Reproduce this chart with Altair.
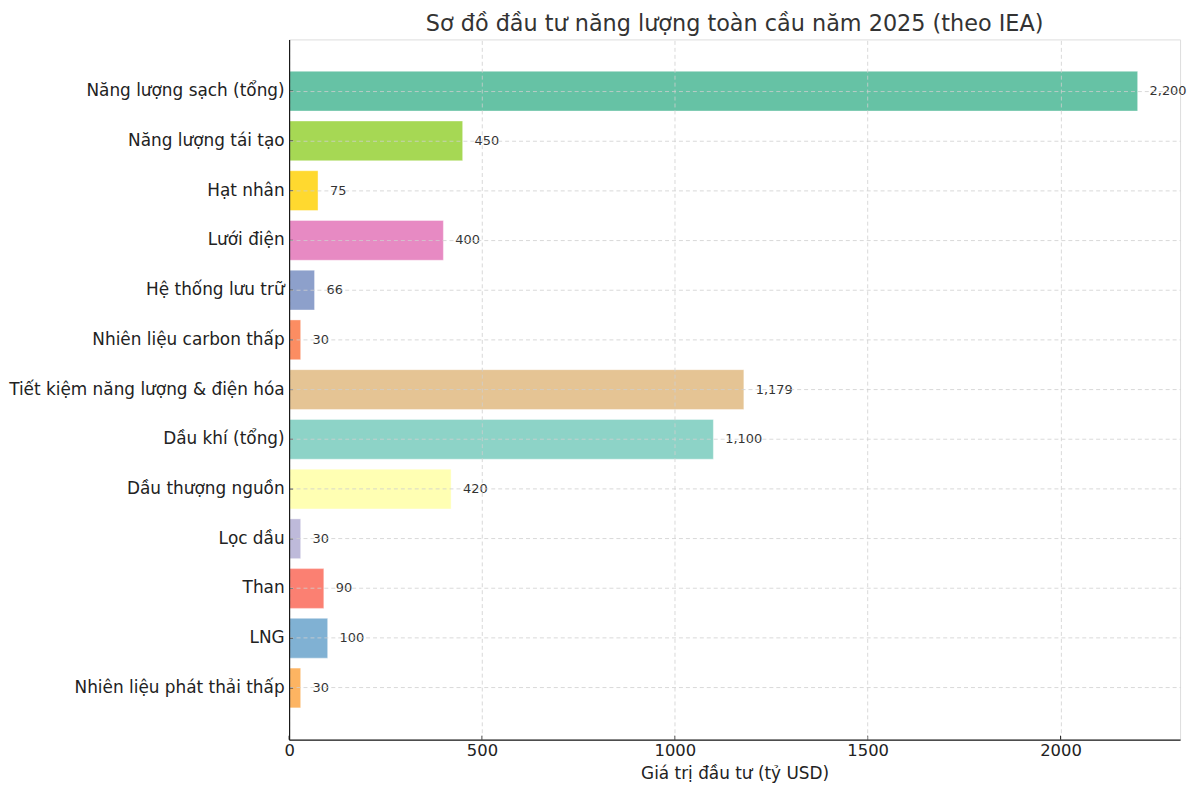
import altair as alt
import pandas as pd

categories = [
    "Năng lượng sạch (tổng)",
    "Năng lượng tái tạo",
    "Hạt nhân",
    "Lưới điện",
    "Hệ thống lưu trữ",
    "Nhiên liệu carbon thấp",
    "Tiết kiệm năng lượng & điện hóa",
    "Dầu khí (tổng)",
    "Dầu thượng nguồn",
    "Lọc dầu",
    "Than",
    "LNG",
    "Nhiên liệu phát thải thấp",
]
values = [2200, 450, 75, 400, 66, 30, 1179, 1100, 420, 30, 90, 100, 30]
colors = [
    "#66c2a5", "#a6d854", "#ffd92f", "#e78ac3", "#8da0cb", "#fc8d62", "#e5c494",
    "#8dd3c7", "#ffffb3", "#bebada", "#fb8072", "#80b1d3", "#fdb462",
]
x_ticks = [0, 500, 1000, 1500, 2000]

W, H = 897, 705
FONT = "DejaVu Sans"

df = pd.DataFrame({"cat": categories, "val": values})
ticks_df = pd.DataFrame({"t": x_ticks})

yenc = alt.Y("cat:N", sort=categories, title=None,
             scale=alt.Scale(paddingInner=0.2, paddingOuter=0.64),
             axis=alt.Axis(labelFontSize=17, labelColor="#222222", labelFont=FONT,
                           labelPadding=5, ticks=False, domain=True, domainColor="#1a1a1a",
                           domainWidth=1.2, grid=True, gridColor="#cfcfcf",
                           gridDash=[4, 3], gridWidth=0.8, labelLimit=400, zindex=1))
xscale = alt.Scale(domain=[0, 2310], nice=False, zero=True)

bars = alt.Chart(df).mark_bar(opacity=1, stroke="white", strokeOpacity=0.4,
                              strokeWidth=1).encode(
    x=alt.X("val:Q", scale=xscale, title="Giá trị đầu tư (tỷ USD)",
            axis=alt.Axis(values=x_ticks, labelFontSize=16.5, labelColor="#222222",
                          labelFont=FONT, titleFont=FONT, titleFontSize=17,
                          titleFontWeight="normal", titleColor="#222222",
                          labelPadding=3, titlePadding=7, ticks=False, labelFlush=False,
                          domainColor="#1a1a1a", domainWidth=1.2, grid=True,
                          gridColor="#cfcfcf", gridDash=[4, 3], gridWidth=0.8,
                          format="d", zindex=1)),
    y=yenc,
    color=alt.Color("cat:N", scale=alt.Scale(domain=categories, range=colors), legend=None),
)

labels = alt.Chart(df).mark_text(align="left", baseline="middle", dx=12, fontSize=13,
                                 font=FONT, color="#333333").encode(
    x=alt.X("val:Q", scale=xscale),
    y=alt.Y("cat:N", sort=categories),
    text=alt.Text("val:Q", format=","),
)

ytick = alt.Chart(df).mark_rule(color="#1a1a1a", strokeWidth=1).encode(
    y=alt.Y("cat:N", sort=categories),
    x=alt.value(0), x2=alt.value(4),
)
xtick = alt.Chart(ticks_df).mark_rule(color="#1a1a1a", strokeWidth=1).encode(
    x=alt.X("t:Q", scale=xscale),
    y=alt.value(H), y2=alt.value(H - 4),
)

chart = alt.layer(bars, labels, ytick, xtick).properties(
    width=W, height=H,
    padding={"left": 0, "top": 2, "right": 5, "bottom": 5},
    title=alt.TitleParams("Sơ đồ đầu tư năng lượng toàn cầu năm 2025 (theo IEA)",
                          fontSize=22.5, font=FONT, fontWeight="normal",
                          color="#333333", offset=4, anchor="middle"),
).configure_view(stroke=None).configure(background="white")

chart.save("out.html", embed_options={"renderer": "svg", "actions": False})
